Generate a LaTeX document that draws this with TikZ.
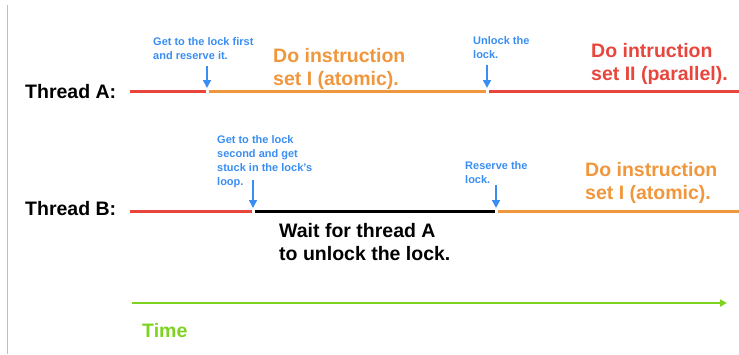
\documentclass[tikz,border=0pt]{standalone}
\usepackage{fontspec}
\setmainfont{Liberation Sans}
\usetikzlibrary{arrows.meta}
\definecolor{lockred}{HTML}{E8453C}
\definecolor{lockorange}{HTML}{F0963C}
\definecolor{lockblue}{HTML}{3A8EF2}
\definecolor{timegreen}{HTML}{7ED321}

\begin{document}
\begin{tikzpicture}[x=1pt,y=-1pt,
    thread/.style={anchor=base west, inner sep=0pt, font=\fontsize{19.5}{22}\selectfont\bfseries},
    task/.style={anchor=base west, inner sep=0pt, align=left, font=\fontsize{19.5}{22.5}\selectfont\bfseries},
    note/.style={anchor=base west, inner sep=0pt, align=left, text=lockblue, font=\fontsize{11}{14}\selectfont\bfseries},
    seg/.style={line width=3pt, shorten <=1.5pt, shorten >=1.5pt},
    pointer/.style={lockblue, line width=1.6pt, shorten >=3pt, -{Triangle[length=8pt,width=8pt]}}]
    \useasboundingbox (0,0) rectangle (739,354);
    \draw[gray!50, line width=1pt] (7,5) -- (7,354);

    % thread A timeline (multi-line nodes sit on their last baseline)
    \node[thread] (thrA) at (25,98) {Thread A:};
    \coordinate (a0) at (128,91);
    \coordinate (a1) at (207,91);
    \coordinate (a2) at (487,91);
    \coordinate (a3) at (741,91);
    \draw[seg, lockred] (a0) -- (a1);
    \draw[seg, lockorange] (a1) -- (a2);
    \draw[seg, lockred] (a2) -- (a3);
    \coordinate (pa1) at (207,66);
    \coordinate (pa2) at (487,65);
    \path[pointer] (pa1) edge (a1);
    \path[pointer] (pa2) edge (a2);
    \node[note] (lockfirst) at (153,59) {Get to the lock first\\and reserve it.};
    \node[note] (unlock) at (473,58) {Unlock the\\lock.};
    \node[task, text=lockorange] (setAone) at (273,85) {Do instruction\\set I (atomic).};
    \node[task, text=lockred] (setAtwo) at (591,80) {Do intruction\\set II (parallel).};

    % thread B timeline
    \node[thread] (thrB) at (25,215) {Thread B:};
    \coordinate (b0) at (128,211);
    \coordinate (b1) at (253,211);
    \coordinate (b2) at (496,211);
    \coordinate (b3) at (741,211);
    \draw[seg, lockred] (b0) -- (b1);
    \draw[seg, black] (b1) -- (b2);
    \draw[seg, lockorange] (b2) -- (b3);
    \coordinate (pb1) at (253,180);
    \coordinate (pb2) at (496,185);
    \path[pointer] (pb1) edge (b1);
    \path[pointer] (pb2) edge (b2);
    \node[note] (locksecond) at (217,185) {Get to the lock\\second and get\\stuck in the lock's\\loop.};
    \node[note] (reserve) at (465,183) {Reserve the\\lock.};
    \node[task] (wait) at (279,260) {Wait for thread A\\to unlock the lock.};
    \node[task, text=lockorange] (setBone) at (585,199) {Do instruction\\set I (atomic).};

    % time axis
    \coordinate (t0) at (132,303);
    \coordinate (t1) at (727,303);
    \draw[timegreen, line width=2pt, -{Triangle[length=7pt,width=7pt]}] (t0) -- (t1);
    \node[thread, text=timegreen] (time) at (142,337) {Time};
\end{tikzpicture}
\end{document}
